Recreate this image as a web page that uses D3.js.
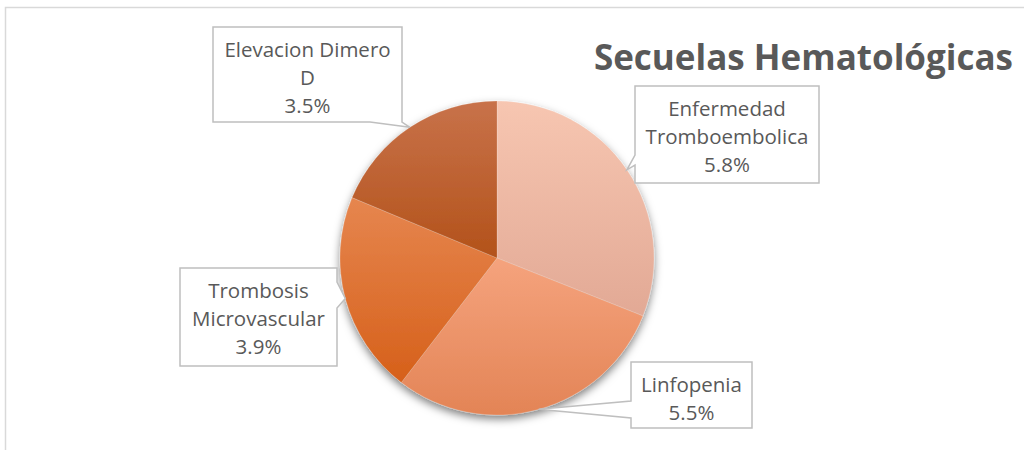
<!DOCTYPE html>
<html>
<head>
<meta charset="utf-8">
<script src="https://cdn.jsdelivr.net/npm/d3@7"></script>
<style>
  body { margin: 0; background: #fff; }
  svg { display: block; }
</style>
</head>
<body>
<div id="chart"></div>
<script>
const categories = ['Enfermedad Tromboembolica', 'Linfopenia', 'Trombosis Microvascular', 'Elevacion Dimero D'];
const values = [5.8, 5.5, 3.9, 3.5];
const labelLines = [['Enfermedad', 'Tromboembolica'], ['Linfopenia'], ['Trombosis', 'Microvascular'], ['Elevacion Dimero', 'D']];
const colorsTop = ['#F7C6B1', '#F5A37D', '#E6864F', '#C8724A'];
const colorsBottom = ['#E2A995', '#E38456', '#D6601A', '#B3521A'];

// callout boxes: x, y, w, h, side the wedge leaves from, and wedge base along that side
const boxes = [
    { x: 635, y: 86, w: 184, h: 97, side: 'left', a: 155, b: 165 },
    { x: 631, y: 362, w: 121, h: 66, side: 'left', a: 401, b: 418 },
    { x: 180, y: 268, w: 157, h: 98, side: 'right', a: 282, b: 308 },
    { x: 213, y: 27, w: 189, h: 95, side: 'bottom', a: 370, b: 402 }
];

const W = 1025, H = 450;
const cx = 497, cy = 258, r = 157;

const svg = d3.select('#chart').append('svg')
    .attr('width', W)
    .attr('height', H);

const defs = svg.append('defs');

const shadow = defs.append('filter').attr('id', 'shadow')
    .attr('x', '-20%').attr('y', '-20%').attr('width', '140%').attr('height', '140%');
shadow.append('feDropShadow')
    .attr('dx', 0).attr('dy', 4)
    .attr('stdDeviation', 4)
    .attr('flood-color', '#000')
    .attr('flood-opacity', 0.5);

values.forEach(function (v, i) {
    const g = defs.append('linearGradient').attr('id', 'grad' + i)
        .attr('x1', 0).attr('y1', 0).attr('x2', 0).attr('y2', 1);
    g.append('stop').attr('offset', '0%').attr('stop-color', colorsTop[i]);
    g.append('stop').attr('offset', '100%').attr('stop-color', colorsBottom[i]);
});

// outer chart frame
svg.append('path')
    .attr('d', 'M5.5,' + H + ' V7.5 H' + (W - 1))
    .attr('fill', 'none')
    .attr('stroke', '#D9D9D9')
    .attr('stroke-width', 1.5);

const data = categories.map(function (c, i) { return { name: c, value: values[i], i: i }; });

const pie = d3.pie().sort(null).value(d => d.value);
const arcs = pie(data);
const arc = d3.arc().innerRadius(0).outerRadius(r);
const edge = d3.arc().innerRadius(r).outerRadius(r);

const pieG = svg.append('g')
    .attr('transform', 'translate(' + cx + ',' + cy + ')');

pieG.append('g')
    .attr('filter', 'url(#shadow)')
    .selectAll('path')
    .data(arcs)
    .enter()
    .append('path')
    .attr('d', arc)
    .attr('fill', d => 'url(#grad' + d.data.i + ')')
    .attr('stroke', 'rgba(255,255,255,0.35)')
    .attr('stroke-width', 0.5);

// callouts
function calloutPath(b, tip) {
    const x0 = b.x, y0 = b.y, x1 = b.x + b.w, y1 = b.y + b.h;
    let p;
    if (b.side === 'left') {
        p = [[x0, y0], [x1, y0], [x1, y1], [x0, y1], [x0, b.b], tip, [x0, b.a]];
    } else if (b.side === 'right') {
        p = [[x0, y0], [x1, y0], [x1, b.a], tip, [x1, b.b], [x1, y1], [x0, y1]];
    } else {
        p = [[x0, y0], [x1, y0], [x1, y1], [b.b, y1], tip, [b.a, y1], [x0, y1]];
    }
    return 'M' + p.map(q => q[0] + ',' + q[1]).join('L') + 'Z';
}

const labels = svg.append('g').selectAll('g')
    .data(arcs)
    .enter()
    .append('g');

labels.append('path')
    .attr('d', function (d) {
        const c = edge.centroid(d);
        return calloutPath(boxes[d.data.i], [cx + c[0], cy + c[1]]);
    })
    .attr('fill', '#fff')
    .attr('stroke', '#BFBFBF')
    .attr('stroke-width', 1.5);

labels.each(function (d) {
    const b = boxes[d.data.i];
    const lines = labelLines[d.data.i].concat([d3.format('.1f')(d.data.value) + '%']);
    const t = d3.select(this).append('text')
        .attr('font-family', 'Open Sans, sans-serif')
        .attr('font-size', '20.5px')
        .attr('fill', '#595959')
        .attr('text-anchor', 'middle');
    lines.forEach(function (s, k) {
        t.append('tspan')
            .attr('x', b.x + b.w / 2)
            .attr('y', b.y + 30 + k * 28)
            .text(s);
    });
});

svg.append('text')
    .attr('x', 1013)
    .attr('y', 70)
    .attr('text-anchor', 'end')
    .attr('font-family', 'Open Sans, sans-serif')
    .attr('font-weight', 'bold')
    .attr('font-size', '35px')
    .attr('fill', '#595959')
    .text('Secuelas Hematológicas');
</script>
</body>
</html>
